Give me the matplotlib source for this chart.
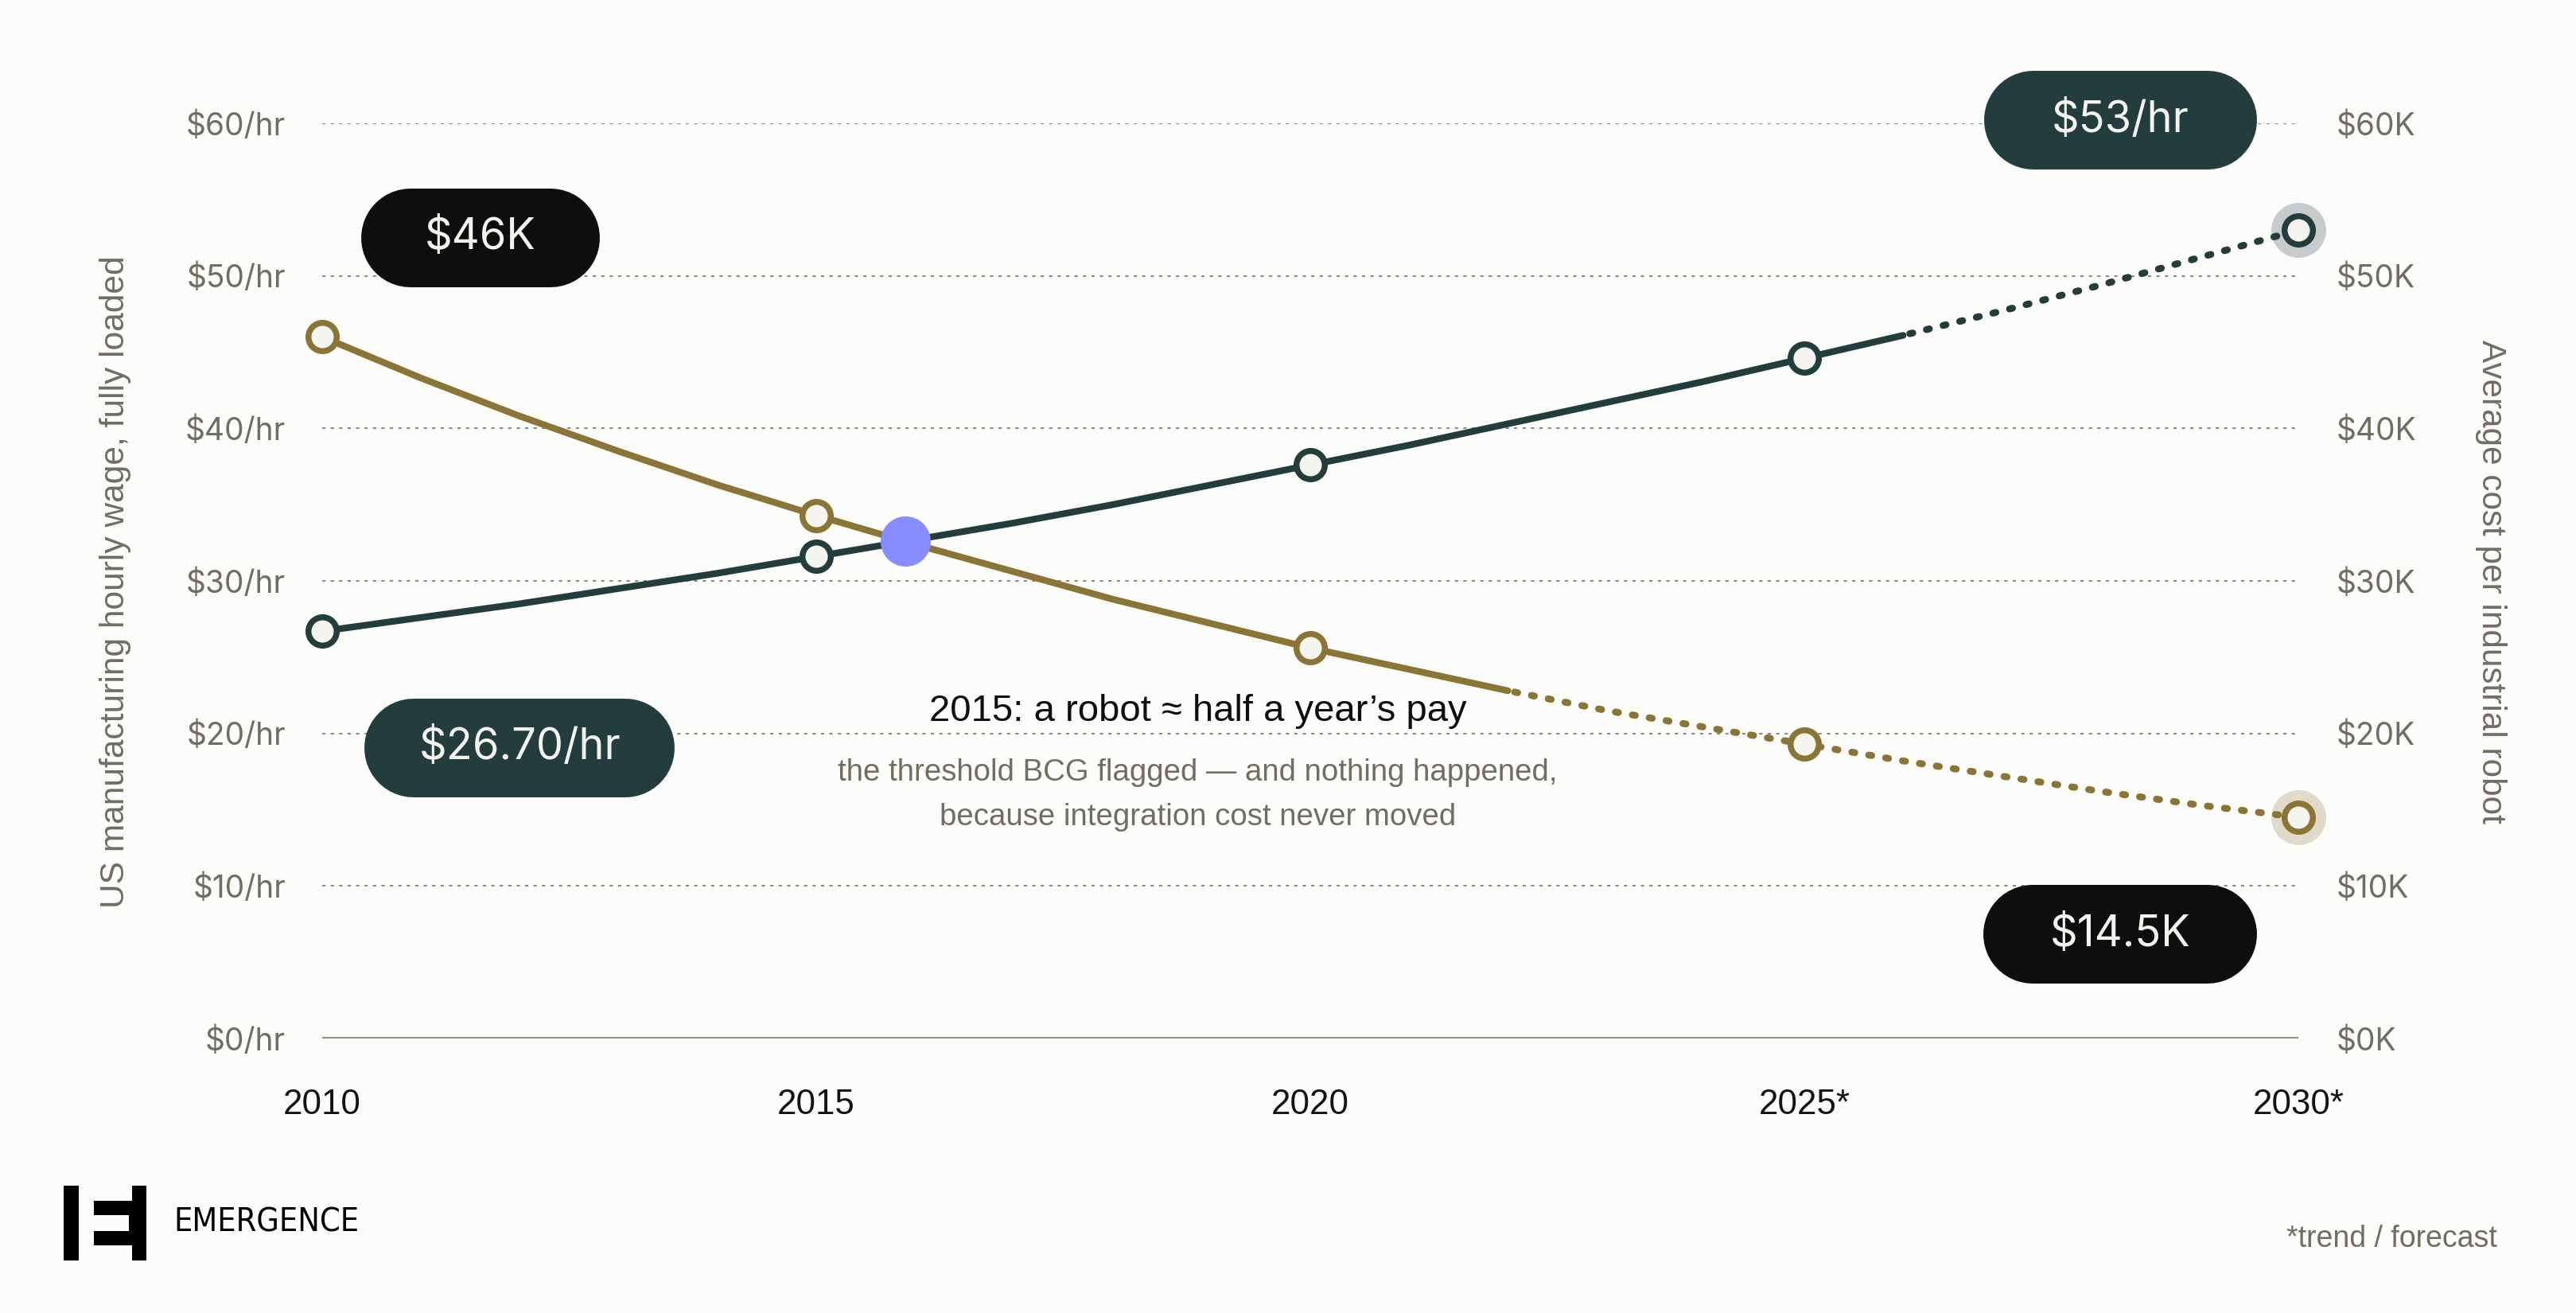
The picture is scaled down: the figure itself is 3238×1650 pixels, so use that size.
import matplotlib
matplotlib.use("Agg")
from matplotlib import pyplot as plt
from matplotlib.lines import Line2D
from matplotlib.patches import Rectangle
from matplotlib.transforms import IdentityTransform

# values
years = list(range(2010, 2031))
wage = [26.7, 27.6, 28.5, 29.5, 30.5, 31.6, 32.7, 33.8, 35.0, 36.3, 37.6,
        38.9, 40.3, 41.7, 43.1, 44.6, 46.1, 47.7, 49.4, 51.2, 53.0]
robot_cost = [46.0, 43.3, 40.8, 38.5, 36.3, 34.3, 32.4, 30.6, 28.8, 27.2, 25.6,
              24.2, 22.8, 21.5, 20.4, 19.3, 18.2, 17.2, 16.2, 15.3, 14.5]
wage_last_actual = 2026
robot_last_actual = 2022
marker_years = [2010, 2015, 2020, 2025, 2030]
crossover_year = 2015.9
crossover_value = 32.6

x_ticks = [2010, 2015, 2020, 2025, 2030]
x_labels = ["2010", "2015", "2020", "2025*", "2030*"]
y_ticks = [0, 10, 20, 30, 40, 50, 60]
wage_tick_labels = ["$%d/hr" % v for v in y_ticks]
robot_tick_labels = ["$%dK" % v for v in y_ticks]

callout_labels = ["$46K", "$53/hr", "$26.70/hr", "$14.5K"]

GREEN = "#223d3c"
GOLD = "#8b7536"
INK = "#0c0f0e"
GREY = "#726d61"
GRID = "#8f8a7e"
PAPER = "#fcfcfb"
FILL = "#f6f4ee"
PURPLE = "#878cff"

W, H, DPI = 3238, 1650, 200

plt.rcParams["font.family"] = ["Liberation Sans", "DejaVu Sans"]

fig = plt.figure(figsize=(W / DPI, H / DPI), dpi=DPI, facecolor=PAPER)
ax = fig.add_axes([405 / W, 1 - 1305 / H, (2889 - 405) / W, (1305 - 155) / H])
ax.set_facecolor("none")
ax.set_xlim(2010, 2030)
ax.set_ylim(0, 60)
for s in ax.spines.values():
    s.set_visible(False)

ax2 = ax.twinx()
ax2.set_ylim(0, 60)
for s in ax2.spines.values():
    s.set_visible(False)

# grid
for v in y_ticks[1:]:
    ax.axhline(v, color=GRID, lw=0.75, ls=(0, (2, 3.1)), zorder=1)
ax.axhline(0, color="#86816f", lw=1.3, zorder=1)

ax.set_xticks(x_ticks)
ax.set_xticklabels(x_labels)
ax.tick_params(axis="x", length=0, pad=22.5, labelsize=15.8, labelcolor="#111413")
ax.set_yticks(y_ticks)
ax.set_yticklabels(wage_tick_labels, family="Inter")
ax.tick_params(axis="y", length=0, pad=16.5, labelsize=14, labelcolor=GREY)
ax2.set_yticks(y_ticks)
ax2.set_yticklabels(robot_tick_labels, family="Inter")
ax2.tick_params(axis="y", length=0, pad=17.3, labelsize=14, labelcolor=GREY)

dotted = (1.5, (0.45, 2.05))


def draw_series(a, values, last_actual, color):
    i = years.index(last_actual)
    a.plot(years[:i + 1], values[:i + 1], color=color, lw=3.0,
           solid_capstyle="round", zorder=3, clip_on=False)
    a.plot(years[i:], values[i:], color=color, lw=3.1, ls=dotted,
           dash_capstyle="round", zorder=3, clip_on=False)
    a.plot([years[-1]], [values[-1]], "o", ms=24.8, color=color, alpha=0.25,
           mew=0, zorder=4, clip_on=False)
    mv = [values[years.index(y)] for y in marker_years]
    a.plot(marker_years, mv, "o", ms=12.8, mfc=FILL, mec=color, mew=2.7,
           zorder=5, clip_on=False)


draw_series(ax, wage, wage_last_actual, GREEN)
draw_series(ax2, robot_cost, robot_last_actual, GOLD)
ax2.plot([crossover_year], [crossover_value], "o", ms=22.7, color=PURPLE,
         mew=0, zorder=6)

# annotation
ax.text(2018.86, 20.8, "2015: a robot \u2248 half a year\u2019s pay", ha="center",
        va="baseline", fontsize=17, color=INK, zorder=7)
ax.text(2018.86, 16.9, "the threshold BCG flagged \u2014 and nothing happened,",
        ha="center", va="baseline", fontsize=13.8, color=GREY, zorder=7)
ax.text(2018.86, 14.0, "because integration cost never moved",
        ha="center", va="baseline", fontsize=13.8, color=GREY, zorder=7)

# value pills (stadium shapes drawn as thick round-capped strokes)
pill_spots = [(2011.6, 52.5, 300, INK), (2028.2, 60.2, 343, GREEN),
              (2012.0, 19.05, 390, GREEN), (2028.2, 6.83, 344, INK)]
ph = 124
for label, (px, py, pw, pc) in zip(callout_labels, pill_spots):
    cx, cy = ax.transData.transform((px, py))
    half = pw / 2 - ph / 2
    fig.add_artist(Line2D([cx - half, cx + half], [cy, cy], lw=ph * 72 / DPI,
                          color=pc, solid_capstyle="round",
                          transform=IdentityTransform(), zorder=8))
    fig.text(cx, cy, label, transform=IdentityTransform(), ha="center",
             va="center", fontsize=19.5, family="Inter", color="#f5f3ee",
             zorder=9)

# axis titles
fig.text(145 / W, 0.557, "US manufacturing hourly wage, fully loaded",
         rotation=90, ha="center", va="center", fontsize=15.3, color=GREY)
fig.text(3131 / W, 0.557, "Average cost per industrial robot",
         rotation=270, ha="center", va="center", fontsize=15.2, color=GREY)

fig.text(3139 / W, 1 - 1557 / H, "*trend / forecast", ha="right", va="center",
         fontsize=13.5, color=GREY)

# logo
for x0, y0, x1, y1 in [(80, 1490, 99, 1584), (166, 1490, 184.3, 1584),
                       (117.7, 1509, 166, 1527.3), (117.7, 1546.7, 166, 1565),
                       (161.7, 1527, 166, 1547)]:
    fig.add_artist(Rectangle((x0 / W, 1 - y1 / H), (x1 - x0) / W, (y1 - y0) / H,
                             transform=fig.transFigure, facecolor="black",
                             edgecolor="none"))
fig.text(218 / W, 1 - 1537 / H, "EMERGENCE", ha="left", va="center",
         fontsize=14.8, family="DejaVu Sans", fontstretch="condensed",
         color="black")

fig.savefig("out.png", dpi=DPI, facecolor=PAPER)
